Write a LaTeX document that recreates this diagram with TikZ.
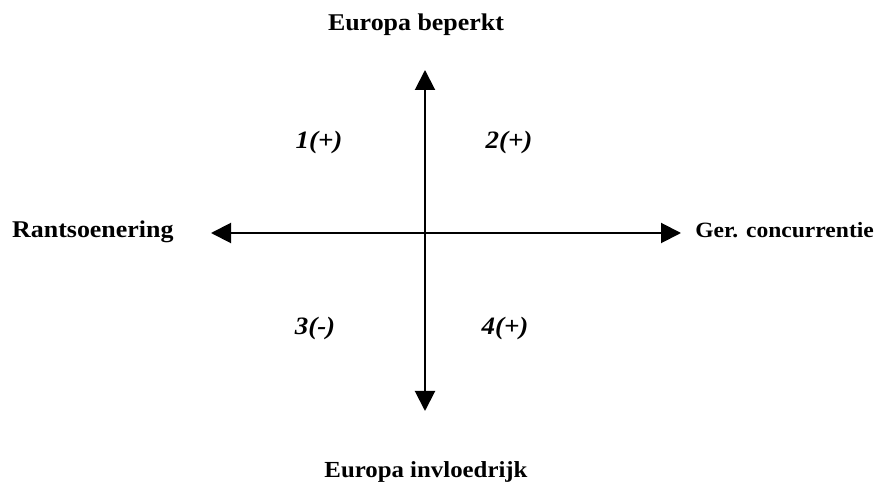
\documentclass[tikz,border=0pt]{standalone}
\usepackage{fontspec}
\setmainfont{Liberation Serif}[FakeStretch=1.08]
\usetikzlibrary{arrows.meta}
\begin{document}
\begin{tikzpicture}[x=1pt,y=-1pt,
  axis/.style={line width=2pt,-{Triangle[length=20pt,width=20pt]}},
  lbl/.style={font=\fontsize{24}{26}\selectfont\bfseries,inner sep=0pt},
  qlbl/.style={font=\fontsize{25}{27}\selectfont\bfseries\itshape,inner sep=0pt,anchor=base}]
\useasboundingbox (0,0) rectangle (879,486);
\coordinate (c) at (425,233);
\coordinate (top) at (425,70);
\coordinate (bot) at (425,411);
\coordinate (left) at (211,233);
\coordinate (right) at (681,233);
\draw[axis] (c) -- (top);
\draw[axis] (c) -- (bot);
\draw[axis] (c) -- (left);
\draw[axis] (c) -- (right);
\node[lbl,anchor=base] (n) at (416,31) {Europa beperkt};
\node[lbl,anchor=base,font=\fontsize{23}{26}\selectfont\bfseries] (s) at (426,478) {Europa invloedrijk};
\node[lbl,anchor=base west] (w) at (12,238) {Rantsoenering};
\node[lbl,anchor=base east,font=\fontsize{21.8}{26}\selectfont\bfseries] (e) at (874,238) {Ger. concurrentie};
\node[qlbl] (q1) at (319,149) {1(+)};
\node[qlbl] (q2) at (509,149) {2(+)};
\node[qlbl] (q3) at (315,335) {3(-)};
\node[qlbl] (q4) at (505,335) {4(+)};
\end{tikzpicture}
\end{document}
